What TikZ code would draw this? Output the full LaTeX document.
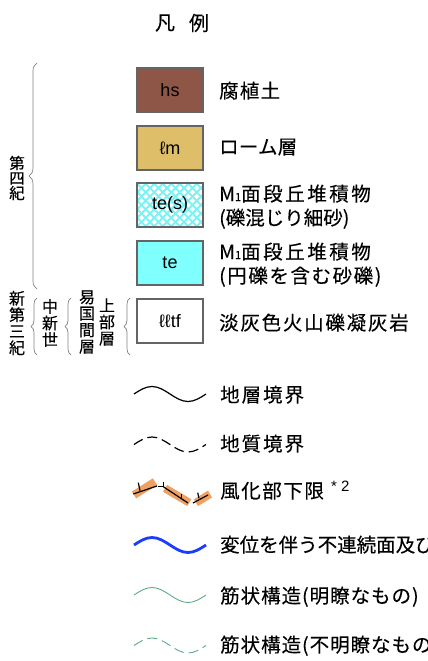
\documentclass[tikz,border=0pt]{standalone}
\usepackage{fontspec}
\setmainfont{Liberation Sans}
\newfontfamily\cjk[FakeBold=0.25]{Noto Sans CJK JP}
\usetikzlibrary{decorations.pathreplacing}
\definecolor{hsbrown}{RGB}{142,86,70}
\definecolor{lmyellow}{RGB}{222,190,104}
\definecolor{tecyan}{RGB}{128,255,255}
\definecolor{hatchc}{RGB}{125,242,242}
\definecolor{boxline}{RGB}{100,100,100}
\definecolor{braceg}{RGB}{130,130,130}
\definecolor{wblue}{RGB}{25,60,255}
\definecolor{sgreen}{RGB}{95,170,130}
\definecolor{worange}{RGB}{238,150,80}
\newcommand{\lsp}[1]{\addfontfeature{LetterSpace=#1}}
\begin{document}
\begin{tikzpicture}[x=1pt,y=-1pt,
  lbox/.style={draw=boxline, line width=1.3pt, minimum width=66pt, minimum height=44pt, inner sep=0pt, font=\fontsize{18}{20}\selectfont},
  lab/.style={anchor=base west, inner sep=0pt, font=\cjk\fontsize{19.5}{22}\selectfont},
  vlab/.style={align=center, inner sep=0pt, font=\cjk\fontsize{16}{16.5}\selectfont},
  brc/.style={draw=braceg, line width=0.7pt, decorate, decoration={brace, amplitude=#1}},
  brc/.default=6pt,
  swave/.pic={\draw[pic actions] (0,0) sin (18,-7.5) cos (36,0) sin (54,7.5) cos (72,0);},
  ]
\useasboundingbox (0,0) rectangle (428,661);
\clip (0,0) rectangle (428,661);

% title
\node[inner sep=0pt, font=\cjk\fontsize{20}{22}\selectfont] (tA) at (165,23) {凡};
\node[inner sep=0pt, font=\cjk\fontsize{20}{22}\selectfont] (tB) at (199,23) {例};

% boxes
\node[lbox, fill=hsbrown] (hs) at (170,90) {hs};
\node[lbox, fill=lmyellow] (lm) at (170,148) {ℓm};
\begin{scope}
  \clip (137,183) rectangle (203,227);
  \fill[white] (137,183) rectangle (203,227);
  \foreach \i in {-60,-51.5,...,80} {
    \draw[hatchc, line width=1.8pt] ({137+\i},183) -- ++(44,44);
    \draw[hatchc, line width=1.8pt] ({137+\i},227) -- ++(44,-44);
  }
\end{scope}
\node[lbox] (tes) at (170,205) {te(s)};
\node[lbox, fill=tecyan] (te) at (170,263) {te};
\node[lbox, fill=white] (lltf) at (170,321) {ℓℓtf};

% labels
\node[lab] (l1) at (219,98) {\lsp{6}腐植土};
\node[lab] (l2) at (219,154) {\lsp{1}ローム層};
\node[lab] (l3) at (219,201) {\lsp{13}M{\fontsize{11}{11}\selectfont 1}面段丘堆積物};
\node[lab] (l4) at (219,225) {\lsp{0}(礫混じり細砂)};
\node[lab] (l5) at (219,259) {\lsp{13}M{\fontsize{11}{11}\selectfont 1}面段丘堆積物};
\node[lab] (l6) at (219,283) {\lsp{8}(円礫を含む砂礫)};
\node[lab] (l7) at (219,330) {\lsp{9}淡灰色火山礫凝灰岩};

% vertical labels and braces
\node[vlab, font=\cjk\fontsize{15.5}{15}\selectfont] (q4) at (17,178) {第\\四\\紀};
\node[vlab] (ng) at (17,323) {新\\第\\三\\紀};
\node[vlab] (mm) at (50,323) {中\\新\\世};
\node[vlab] (yk) at (87,322) {易\\国\\間\\層};
\node[vlab] (ub) at (107,322) {上\\部\\層};
\draw[brc=8pt] (37,289) -- (37,63);
\draw[brc] (37,355) -- (37,298);
\draw[brc] (71,355) -- (71,298);
\draw[brc] (130,355) -- (130,298);

% line symbols
\pic[black, line width=1.2pt] (s1) at (134,394) {swave};
\node[lab] (k1) at (220,402) {\lsp{10}地層境界};
\pic[black, line width=1.2pt, dash pattern=on 10pt off 5pt] (s2) at (134,444.5) {swave};
\node[lab] (k2) at (220,451) {\lsp{10}地質境界};

% weathering lower limit
\draw[worange, line width=8pt, opacity=0.9] (134,495) -- (155,481.7);
\draw[worange, line width=8pt, opacity=0.9] (165,488.3) -- (189.3,502.7);
\draw[worange, line width=8pt, opacity=0.9] (196,502.7) -- (210,494);
\begin{scope}[black, line width=1.2pt]
\draw (133.3,494) -- (157,486);
\draw (138.3,482.7) -- (140,490.7);
\draw (163.3,481.7) -- (163.3,486.7) -- (158.3,486.7);
\draw (163.3,486.7) -- (168.3,490) -- (188,503);
\draw (181.7,494) -- (181.7,499.3);
\draw (193,503) -- (208,495);
\draw (197.7,492.7) -- (199,498.3);
\end{scope}
\node[lab] (k3) at (220,498) {\lsp{8}風化部下限};
\node[anchor=base west, inner sep=0pt, font=\fontsize{15}{17}\selectfont] (k3n) at (331,491) {* 2};

\pic[wblue, line width=2.8pt] (s4) at (134,545) {swave};
\node[lab] (k4) at (220,552) {\lsp{0}変位を伴う不連続面及び};
\pic[sgreen, line width=0.9pt] (s5) at (134,595) {swave};
\node[lab] (k5) at (220,603) {\lsp{5}筋状構造(明瞭なもの)};
\pic[sgreen, line width=0.9pt, dash pattern=on 10pt off 5pt] (s6) at (134,645.5) {swave};
\node[lab] (k6) at (220,652) {\lsp{5}筋状構造(不明瞭なもの};
\end{tikzpicture}
\end{document}
